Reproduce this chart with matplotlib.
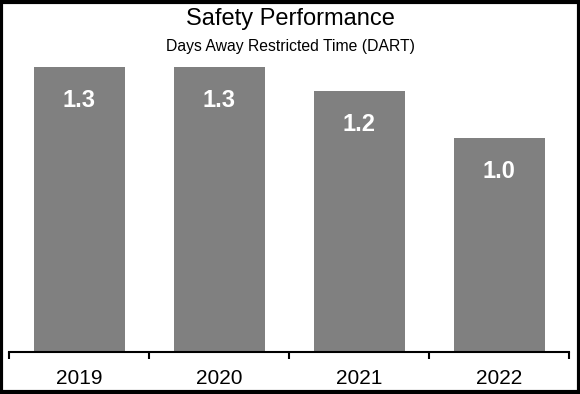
import numpy as np
import matplotlib.pyplot as plt
from matplotlib.patches import Rectangle

plt.rcParams["font.family"] = ["Liberation Sans", "DejaVu Sans"]

years = ["2019", "2020", "2021", "2022"]
dart = [1.33, 1.33, 1.22, 1.00]
bar_color = "#808080"

fig = plt.figure(figsize=(5.8, 3.94), dpi=100)
ax = fig.add_axes([9 / 580, 1 - 352 / 394, 560 / 580, (352 - 52.4) / 394])

x = np.arange(len(years))
bars = ax.bar(x, dart, width=0.65, color=bar_color)

for rect, val in zip(bars, dart):
    ax.annotate(f"{val:.1f}", (rect.get_x() + rect.get_width() / 2, val),
                xytext=(0, -24), textcoords="offset points",
                ha="center", va="center", color="white",
                fontsize=17, fontweight="bold")

ax.set_xlim(-0.5, len(years) - 0.5)
ax.set_ylim(0, 1.4)
ax.set_yticks([])
for side in ["top", "right", "left"]:
    ax.spines[side].set_visible(False)
ax.spines["bottom"].set_linewidth(1.5)

# ticks between categories, labels centred under bars
ax.set_xticks(np.arange(-0.5, len(years)), labels=[""] * (len(years) + 1))
ax.tick_params(axis="x", which="major", length=5, width=1.5, direction="out")
ax.set_xticks(x, labels=years, minor=True)
ax.tick_params(axis="x", which="minor", length=0, labelsize=15, pad=12)

fig.text(0.5, 1 - 19 / 394, "Safety Performance", ha="center", va="center", fontsize=17)
fig.text(0.5, 1 - 47 / 394, "Days Away Restricted Time (DART)", ha="center", va="center", fontsize=11.3)

fig.patches.append(Rectangle((0.0025, 0.004), 0.995, 0.992, transform=fig.transFigure,
                             fill=False, edgecolor="black", linewidth=3))

fig.savefig("out.png", dpi=100)
